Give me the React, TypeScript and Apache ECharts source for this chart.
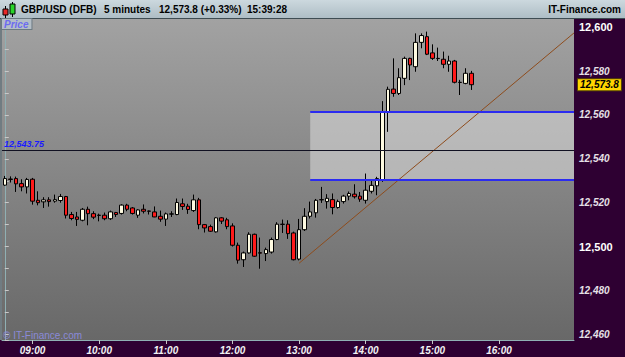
import React, { useEffect, useRef } from 'react';
import * as echarts from 'echarts';

// ---- data ----
const SLOT_COUNT = 103; // 08:35 .. 17:05, 5-minute bars
function buildTimes(): string[] {
  const out: string[] = [];
  let m = 8 * 60 + 35;
  for (let i = 0; i < SLOT_COUNT; i++) {
    const h = Math.floor(m / 60);
    const mm = m % 60;
    out.push(String(h).padStart(2, '0') + ':' + String(mm).padStart(2, '0'));
    m += 5;
  }
  return out;
}
const times = buildTimes();
const hourLabels = ['09:00', '10:00', '11:00', '12:00', '13:00', '14:00', '15:00', '16:00'];

const opens = [
  12528.0, 12530.8, 12531.0, 12528.7, 12527.2, 12530.7, 12521.1, 12520.4, 12521.3, 12520.7,
  12521.0, 12522.8, 12514.6, 12513.5, 12512.0, 12517.0, 12515.0, 12514.3, 12514.3, 12512.7,
  12515.5, 12515.1, 12518.9, 12517.6, 12514.3, 12517.0, 12516.2, 12515.8, 12513.8, 12512.5,
  12514.9, 12514.6, 12519.5, 12518.4, 12516.4, 12521.3, 12510.0, 12509.1, 12506.7, 12513.1,
  12512.2, 12509.4, 12500.6, 12494.0, 12497.1, 12505.6, 12497.2, 12496.8, 12497.5, 12503.2,
  12510.2, 12510.2, 12506.2, 12494.3, 12507.7, 12513.8, 12515.4, 12521.4, 12520.5, 12521.4,
  12517.8, 12520.5, 12523.0, 12523.9, 12523.0, 12521.1, 12525.2, 12527.7, 12530.3, 12561.2,
  12571.8, 12569.8, 12576.7, 12585.8, 12582.0, 12593.1, 12595.7, 12588.3, 12585.8, 12585.4,
  12583.1, 12584.6, 12574.9, 12574.4, 12579.0,
];
const closes = [
  12531.0, 12530.6, 12528.6, 12527.2, 12530.6, 12520.7, 12520.0, 12521.3, 12520.5, 12521.4,
  12522.8, 12514.3, 12512.8, 12512.4, 12517.0, 12515.0, 12513.4, 12514.2, 12512.7, 12515.8,
  12514.6, 12518.9, 12517.0, 12515.1, 12516.7, 12516.1, 12516.1, 12513.5, 12512.5, 12514.9,
  12514.8, 12520.1, 12518.3, 12516.9, 12521.3, 12510.0, 12508.5, 12507.0, 12513.1, 12511.6,
  12509.1, 12500.6, 12493.8, 12497.1, 12505.6, 12495.6, 12497.0, 12498.6, 12503.2, 12510.2,
  12510.1, 12505.9, 12494.0, 12507.7, 12513.8, 12515.8, 12521.1, 12521.3, 12522.0, 12517.8,
  12520.5, 12523.0, 12524.2, 12522.7, 12521.6, 12525.7, 12527.9, 12531.0, 12561.2, 12571.7,
  12569.8, 12577.0, 12585.8, 12582.8, 12593.1, 12596.2, 12587.7, 12585.8, 12585.7, 12583.1,
  12584.6, 12574.9, 12574.8, 12579.0, 12573.8,
];
const lows = [
  12527.7, 12529.2, 12524.9, 12525.2, 12524.2, 12519.1, 12518.8, 12517.6, 12518.2, 12520.0,
  12520.0, 12512.8, 12512.0, 12509.4, 12511.5, 12509.7, 12512.5, 12511.5, 12512.0, 12512.1,
  12513.5, 12514.6, 12516.1, 12514.6, 12513.1, 12515.1, 12514.6, 12513.4, 12511.3, 12509.4,
  12513.5, 12514.3, 12516.7, 12514.9, 12515.8, 12507.9, 12506.4, 12506.7, 12506.4, 12510.3,
  12507.9, 12500.0, 12492.2, 12490.7, 12496.8, 12495.3, 12489.9, 12493.4, 12496.8, 12502.9,
  12506.2, 12503.5, 12493.7, 12493.7, 12507.1, 12512.8, 12513.2, 12519.9, 12517.3, 12514.7,
  12517.3, 12519.6, 12521.1, 12521.9, 12520.4, 12519.6, 12524.2, 12523.4, 12529.5, 12552.3,
  12568.3, 12569.1, 12573.6, 12575.9, 12579.7, 12590.4, 12587.3, 12585.1, 12584.6, 12581.3,
  12579.7, 12574.4, 12569.1, 12574.0, 12571.4,
];
const highs = [
  12532.2, 12532.0, 12531.9, 12530.7, 12531.3, 12531.3, 12525.2, 12522.5, 12522.5, 12523.7,
  12524.0, 12523.1, 12515.8, 12515.8, 12517.6, 12518.2, 12516.1, 12515.0, 12515.5, 12516.4,
  12515.8, 12519.3, 12519.5, 12518.0, 12517.0, 12519.2, 12516.4, 12518.3, 12516.4, 12515.5,
  12516.1, 12521.9, 12521.9, 12519.5, 12523.7, 12522.2, 12510.3, 12510.0, 12513.4, 12513.4,
  12513.1, 12510.6, 12501.8, 12497.7, 12506.5, 12505.9, 12504.1, 12499.5, 12504.1, 12511.1,
  12512.3, 12512.0, 12506.8, 12512.6, 12517.5, 12520.5, 12521.7, 12527.2, 12523.9, 12524.2,
  12521.4, 12523.6, 12525.1, 12528.4, 12524.9, 12533.3, 12530.3, 12531.8, 12566.3, 12572.9,
  12585.8, 12581.3, 12586.6, 12586.1, 12597.2, 12597.2, 12598.0, 12592.2, 12590.7, 12588.9,
  12587.0, 12585.1, 12576.0, 12581.3, 12580.1,
];

const midLevel = 12543.75;
const bandTop = 12561.3;
const bandBottom = 12530.6;
const bandStartIndex = 55;
const trendStart: [number, number] = [53, 12492.4];
const trendEnd: [number, number] = [102.5, 12597.4];
const headerItems = ['GBP/USD (DFB)', '5 minutes', '12,573.8 (+0.33%)', '15:39:28'];
const headerX = [21, 104, 159, 247];
const siteName = 'IT-Finance.com';

const yMin = 12457.4;
const yMax = 12603.75;

const FONT = '"Liberation Sans", Arial, sans-serif';

function fmt(v: number, digits = 0) {
  return v.toLocaleString('en-US', { minimumFractionDigits: digits, maximumFractionDigits: digits });
}

export default function App() {
  const ref = useRef<HTMLDivElement>(null);
  useEffect(() => {
    if (!ref.current) return;
    const chart = echarts.init(ref.current, undefined, { renderer: 'svg' });
    const candles = opens.map((o, i) => [o, closes[i], lows[i], highs[i]]);
    const lastClose = closes[closes.length - 1];
    const isHour = (_i: number, v: string) => hourLabels.includes(v);

    const option: any = {
      animation: false,
      backgroundColor: '#2e0032',
      grid: {
        left: 2, right: 51, top: 19, bottom: 17,
        show: true,
        borderWidth: 0,
        backgroundColor: new echarts.graphic.LinearGradient(0, 0, 0, 1, [
          { offset: 0, color: '#a2a2a2' },
          { offset: 1, color: '#686868' },
        ]),
      },
      xAxis: [
        {
          type: 'category',
          data: times,
          boundaryGap: true,
          axisLine: { show: true, lineStyle: { color: '#8fb0b4', width: 1 } },
          axisTick: { show: true, interval: isHour, alignWithLabel: true, length: 4, lineStyle: { color: '#c8c8c8' } },
          axisLabel: {
            interval: isHour, margin: 5, color: '#f2f2f2', fontStyle: 'italic', fontWeight: 'bold',
            fontSize: 10, fontFamily: FONT,
          },
          splitLine: { show: false },
        },
        { type: 'value', min: -0.5, max: SLOT_COUNT - 0.5, show: false },
      ],
      yAxis: {
        type: 'value',
        position: 'right',
        min: yMin,
        max: yMax,
        splitNumber: 14,
        minInterval: 10,
        maxInterval: 10,
        splitLine: { show: false },
        axisLine: { show: true, lineStyle: { color: '#8fb0b4', width: 1 } },
        axisTick: { show: true, length: 4, lineStyle: { color: '#c8c8c8' } },
        axisLabel: {
          margin: 5,
          formatter: (v: number) => {
            const r = Math.round(v);
            if (Math.abs(v - r) > 0.001 || r % 20 !== 0) return '';
            const s = fmt(r);
            return r % 100 === 0 ? `{b|${s}}` : `{i|${s}}`;
          },
          rich: {
            b: { color: '#ffffff', fontWeight: 'bold', fontSize: 11, fontFamily: FONT },
            i: { color: '#e6e0e6', fontWeight: 'bold', fontStyle: 'italic', fontSize: 10, fontFamily: FONT },
          },
        },
      },
      series: [
        {
          type: 'candlestick',
          xAxisIndex: 0,
          yAxisIndex: 0,
          data: candles,
          barWidth: 4,
          clip: false,
          itemStyle: {
            color: '#fffbe2',
            color0: '#ff1a1a',
            borderColor: '#000000',
            borderColor0: '#000000',
            borderColorDoji: '#000000',
            borderWidth: 1,
          },
          markLine: {
            symbol: 'none',
            silent: true,
            animation: false,
            data: [
              {
                yAxis: midLevel,
                lineStyle: { color: '#111122', width: 1, type: 'solid' },
                label: {
                  show: true, position: 'insideStartTop', distance: [2, 2],
                  formatter: () => fmt(midLevel, 2),
                  color: '#1a1aff', fontStyle: 'italic', fontWeight: 'bold', fontSize: 9, fontFamily: FONT,
                },
              },
              {
                yAxis: lastClose,
                lineStyle: { color: 'rgba(0,0,0,0)', width: 1, type: 'solid' },
                label: {
                  show: true, position: 'end', distance: 4,
                  formatter: () => fmt(lastClose, 1),
                  color: '#000000', fontStyle: 'italic', fontWeight: 'bold', fontSize: 10, fontFamily: FONT,
                  backgroundColor: '#ffd500', borderColor: '#5a4a00', borderWidth: 1, padding: [1, 2, 0, 2],
                },
              },
            ],
          },
        },
        {
          type: 'line',
          xAxisIndex: 1,
          yAxisIndex: 0,
          data: [trendStart, trendEnd],
          symbol: 'none',
          lineStyle: { color: '#8e4c1c', width: 1 },
          markArea: {
            silent: true,
            itemStyle: { color: 'rgba(222,222,222,0.55)' },
            data: [[{ coord: [bandStartIndex, bandTop] }, { coord: [SLOT_COUNT - 0.5, bandBottom] }]],
          },
          markLine: {
            symbol: 'none',
            silent: true,
            label: { show: false },
            lineStyle: { color: '#2b2bf0', width: 2, type: 'solid' },
            data: [
              [{ coord: [bandStartIndex, bandTop] }, { coord: [SLOT_COUNT - 0.5, bandTop] }],
              [{ coord: [bandStartIndex, bandBottom] }, { coord: [SLOT_COUNT - 0.5, bandBottom] }],
            ],
          },
        },
      ],
      graphic: [
        {
          type: 'rect', shape: { x: 0, y: 0, width: 625, height: 18 }, silent: true,
          style: {
            fill: new echarts.graphic.LinearGradient(0, 0, 0, 1, [
              { offset: 0, color: '#ccd8de' },
              { offset: 1, color: '#aebdc5' },
            ]),
          },
        },
        { type: 'line', shape: { x1: 0, y1: 18.5, x2: 625, y2: 18.5 }, style: { stroke: '#3e4c52', lineWidth: 1 }, silent: true },
        { type: 'rect', shape: { x: 0, y: 19, width: 2, height: 321 }, style: { fill: '#707c82' }, silent: true },
        // header icon
        { type: 'line', shape: { x1: 5.5, y1: 6, x2: 5.5, y2: 18 }, style: { stroke: '#000', lineWidth: 1 }, silent: true },
        { type: 'rect', shape: { x: 3, y: 9, width: 5, height: 6 }, style: { fill: '#e82828', stroke: '#000', lineWidth: 1 }, silent: true },
        { type: 'line', shape: { x1: 12.5, y1: 2, x2: 12.5, y2: 17 }, style: { stroke: '#000', lineWidth: 1 }, silent: true },
        { type: 'rect', shape: { x: 10, y: 4, width: 5, height: 10 }, style: { fill: '#2ad42a', stroke: '#000', lineWidth: 1 }, silent: true },
        ...headerItems.map((t, i) => ({
          type: 'text', x: headerX[i], y: 9, silent: true,
          style: { text: t, fill: '#000', font: `bold 10px ${FONT}`, verticalAlign: 'middle', textAlign: 'left' },
        })),
        {
          type: 'text', x: 621, y: 9, silent: true,
          style: { text: siteName, fill: '#000', font: `bold 10px ${FONT}`, verticalAlign: 'middle', textAlign: 'right' },
        },
        // "Price" tag
        {
          type: 'text', x: 2, y: 19, silent: true, z: 100,
          style: {
            text: 'Price', fill: '#6c6cf0', font: `italic bold 10px ${FONT}`,
            verticalAlign: 'top', textAlign: 'left',
            backgroundColor: '#b4bec6', borderColor: '#6c7a82', borderWidth: 1, padding: [0, 3, 0, 2],
          },
        },
        // watermark
        {
          type: 'text', x: 3, y: 335, silent: true, z: 10,
          style: { text: '© IT-Finance.com', fill: '#8a8ad8', font: `10px ${FONT}`, verticalAlign: 'middle' },
        },
      ],
    };
    chart.setOption(option);
    return () => chart.dispose();
  }, []);

  return (
    <div
      ref={ref}
      style={{ position: 'fixed', left: 0, top: 0, width: 625, height: 357 }}
    />
  );
}
